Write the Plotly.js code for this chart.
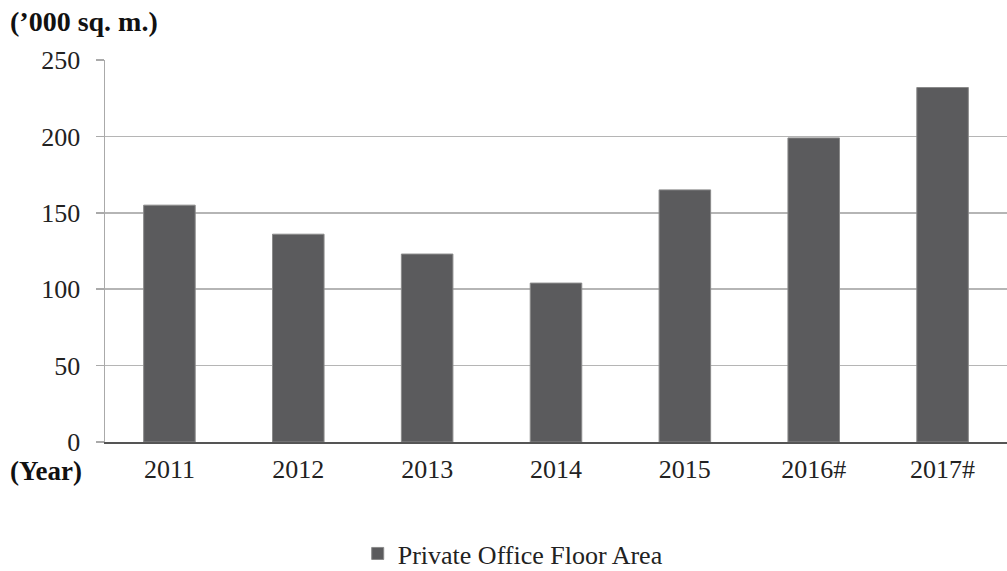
<!DOCTYPE html>
<html>
<head>
<meta charset="utf-8">
<script src="https://cdn.plot.ly/plotly-3.0.1.min.js"></script>
<style>html,body{margin:0;padding:0;background:#fff;}#chart{width:1007px;height:571px;}</style>
</head>
<body>
<div id="chart"></div>
<script>
const categories = ["2011", "2012", "2013", "2014", "2015", "2016#", "2017#"];
const floorArea = [155, 136, 123, 104, 165, 199, 232];
const seriesName = "Private Office Floor Area";
const yTicks = [0, 50, 100, 150, 200, 250];

const font = "Liberation Serif, Times New Roman, serif";

const trace = {
  type: "bar",
  x: categories,
  y: floorArea,
  name: seriesName,
  marker: {color: "#5b5b5d", line: {color: "#8a8a8a", width: 1}},
  showlegend: true
};

const layout = {
  width: 1007, height: 571,
  margin: {l: 105, r: 0, t: 60, b: 129, autoexpand: false},
  paper_bgcolor: "#fff", plot_bgcolor: "#fff",
  bargap: 0.6,
  font: {family: font, size: 26, color: "#222"},
  xaxis: {
    type: "category",
    showgrid: false,
    showline: true, linecolor: "#555", linewidth: 1.5,
    ticks: "", ticklabelstandoff: 3,
    tickfont: {family: font, size: 26, color: "#222"},
    automargin: false,
    fixedrange: true
  },
  yaxis: {
    range: [0, 250],
    tickvals: yTicks,
    showgrid: true, gridcolor: "#b5b5b5", gridwidth: 1.5,
    showline: true, linecolor: "#aaa", linewidth: 1.5,
    ticks: "outside", ticklen: 8, tickcolor: "#aaa", tickwidth: 1.5,
    ticklabelstandoff: 10,
    tickfont: {family: font, size: 26, color: "#222"},
    zeroline: false,
    automargin: false,
    fixedrange: true
  },
  legend: {
    orientation: "h",
    x: 0.452, xanchor: "center",
    y: -0.292, yanchor: "middle",
    font: {family: font, size: 26, color: "#222"}
  },
  annotations: [
    {text: "<b>(\u2019000 sq. m.)</b>", xref: "paper", yref: "paper", x: -0.108, y: 1.1, xanchor: "left", yanchor: "middle", showarrow: false, font: {family: font, size: 28, color: "#111"}},
    {text: "<b>(Year)</b>", xref: "paper", yref: "paper", x: -0.108, y: -0.075, xanchor: "left", yanchor: "middle", showarrow: false, font: {family: font, size: 27, color: "#111"}}
  ]
};

Plotly.newPlot("chart", [trace], layout, {displayModeBar: false, staticPlot: true});
</script>
</body>
</html>
